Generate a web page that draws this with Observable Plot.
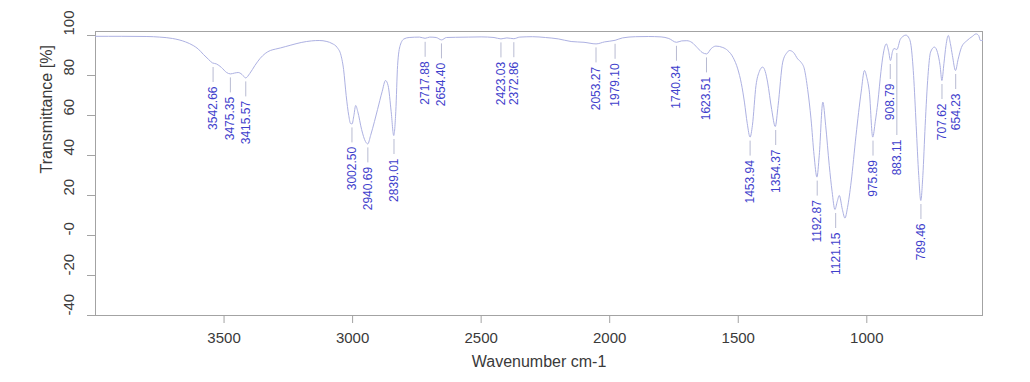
<!DOCTYPE html>
<html><head><meta charset="utf-8">
<script src="https://cdn.jsdelivr.net/npm/d3@7"></script>
<script src="https://cdn.jsdelivr.net/npm/@observablehq/plot@0.6"></script>
<style>body{margin:0;background:#fff} svg{display:block}</style>
</head><body><div id="chart"></div>
<script>
// IR spectrum (wavenumber cm-1 vs transmittance %)
const wavenumber = [4000,3900,3800,3750,3700,3650,3620,3600,3580,3560,3545,3530,3510,3490,3475,3460,3445,3430,3416,3400,3380,3360,3340,3320,3300,3280,3260,3240,3200,3160,3130,3100,3080,3060,3045,3035,3025,3015,3008,3002,2995,2988,2980,2965,2950,2941,2930,2915,2903,2885,2872,2862,2850,2840,2832,2825,2815,2800,2780,2740,2718,2700,2675,2654,2635,2600,2550,2500,2450,2423,2400,2373,2350,2300,2250,2200,2150,2100,2053,2020,1979,1950,1900,1850,1800,1770,1740,1720,1700,1680,1660,1640,1623,1605,1587,1560,1541,1520,1502,1488,1476,1465,1454,1445,1431,1418,1405,1395,1386,1370,1356,1345,1327,1310,1301,1285,1269,1255,1243,1230,1217,1205,1194,1185,1171,1160,1146,1135,1124,1115,1107,1095,1085,1075,1061,1042,1022,1009,1000,990,977,967,957,945,937,924,915,908,900,894,883,870,860,848,835,828,818,808,798,790,782,773,762,752,737,725,715,708,700,692,683,675,667,655,645,632,610,590,575,565,558,550];
const transmittance = [99.6,99.6,99.5,99.2,98.5,96.8,95,93.2,90.5,88,86.3,85.8,84,81.5,80.8,81.2,81.5,80.5,78.8,81,85,88.5,91,92.5,93.2,93.8,94.5,95.2,96.5,97.3,97.5,97,96,94,90,83,70,60,56,55.8,60,65,62,53,47,45.8,50,57,63,72,77.5,75,62,50,62,85,95,98.3,99,99.2,98.6,99.2,99,97.8,99,99.1,99.2,99.3,99,98.3,98.8,98.4,99.2,99.4,99,98.3,97,96.6,95.8,96.8,97.6,98.8,99.4,99.5,99.3,98.5,96.6,97.3,97.4,96.5,94,91.5,90.8,93.5,94.7,94,92.5,89,83.3,76,66.7,56,49.2,55,75,82,84.2,82,76.7,63,54.5,65,86.7,91.5,92.5,91.5,88.3,86.5,83.3,73,58.3,40,29.2,40,66.7,55,35,22,13,17,20,13,8.7,14,26.7,50,71.7,82.5,79,71.7,49.2,57,66.7,82,90,95.8,92,87.5,92,93.5,93,98,99.5,100.2,98.5,95,80,55,30,17.5,30,55,80,91.7,94.2,91.5,85,77.5,86,95,100,96,90,82.5,88,94,97.5,99.5,100.8,100,97.5,97.5];

// annotated peaks
const peakLabels = ["3542.66","3475.35","3415.57","3002.50","2940.69","2839.01","2717.88","2654.40","2423.03","2372.86","2053.27","1979.10","1740.34","1623.51","1453.94","1354.37","1192.87","1121.15","975.89","908.79","883.11","789.46","707.62","654.23"];
const peakWavenumber = [3542.66,3475.35,3415.57,3002.50,2940.69,2839.01,2717.88,2654.40,2423.03,2372.86,2053.27,1979.10,1740.34,1623.51,1453.94,1354.37,1192.87,1121.15,975.89,908.79,883.11,789.46,707.62,654.23];
const peakTransmittance = [86,80.8,78.8,55.8,45.8,50,98.6,97.8,98.3,98.4,95.8,97.6,96.6,90.8,49.2,54.5,29.2,13,49.2,87.5,93,17.5,77.5,82.5];

const xTicks = [3500,3000,2500,2000,1500,1000];
const xTickLabels = ["3500","3000","2500","2000","1500","1000"];
const yTicks = [100,80,60,40,20,0,-20,-40];
const yTickLabels = ["100","80","60","40","20","-0","-20","-40"];

const spectrum = wavenumber.map((w, i) => ({w, t: transmittance[i]})).sort((a, b) => a.w - b.w);

// label layout (below each peak, pushed down if it would collide with its neighbour)
const OFF = 11.5, LEN = 22, GAP = 6, NEAR = 45;
const peaks = peakLabels.map((label, i) => ({label, w: peakWavenumber[i], t: peakTransmittance[i]}));
let prev = null;
for (const p of peaks) {
  p.top = p.t - OFF;
  if (prev && Math.abs(prev.w - p.w) < NEAR && p.top > prev.top - LEN - GAP) p.top = prev.top - LEN - GAP;
  p.l1 = p.t - 2;
  p.l2 = p.top + 2;
  prev = p;
}

const font = "'Liberation Sans', Arial, Helvetica, sans-serif";
const chart = Plot.plot({
  width: 1030,
  height: 382,
  marginLeft: 95,
  marginRight: 48,
  marginTop: 31,
  marginBottom: 67,
  style: {fontFamily: font, background: "#fff"},
  x: {domain: [4000, 550]},
  y: {domain: [-40, 102]},
  marks: [
    Plot.frame({stroke: "#a3a3a3"}),
    Plot.axisX({ticks: xTicks, tickFormat: d => xTickLabels[xTicks.indexOf(d)], tickSize: 8, tickPadding: 9, fontSize: 15, color: "#3a3a3a", stroke: "#a3a3a3", label: null}),
    Plot.axisY({ticks: yTicks, tickSize: 8, tickFormat: () => "", stroke: "#a3a3a3", label: null}),
    Plot.text(yTicks, {y: d => d, text: (d, i) => yTickLabels[i], frameAnchor: "left", rotate: -90, dx: -26, fontSize: 15, fill: "#3a3a3a"}),
    Plot.text(["Transmittance [%]"], {frameAnchor: "left", rotate: -90, dx: -49, fontSize: 16, fill: "#3a3a3a"}),
    Plot.text(["Wavenumber cm-1"], {frameAnchor: "bottom", dy: 51, fontSize: 16, fill: "#3a3a3a"}),
    Plot.line(spectrum, {x: "w", y: "t", curve: "monotone-x", stroke: "#adb1e2", strokeWidth: 1}),
    Plot.ruleX(peaks, {x: "w", y1: "l1", y2: "l2", stroke: "#b8bbd2", strokeWidth: 1}),
    Plot.text(peaks, {x: "w", y: "top", text: "label", rotate: -90, textAnchor: "end", fontSize: 12, fill: "#3f3fcc"})
  ]
});
document.getElementById("chart").append(chart);
</script>
</body></html>
